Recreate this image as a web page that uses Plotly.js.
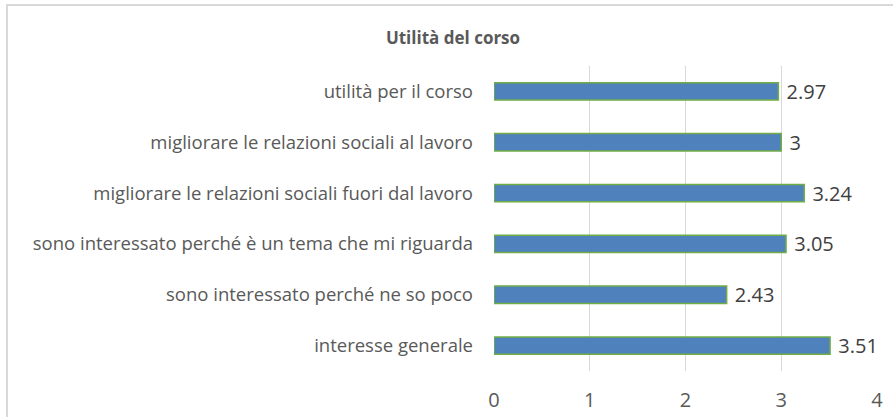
<!DOCTYPE html>
<html>
<head>
<meta charset="utf-8">
<script src="https://cdn.plot.ly/plotly-3.0.1.min.js"></script>
<style>
html,body{margin:0;padding:0;background:#fff;overflow:hidden;}
#chart{width:893px;height:417px;}
</style>
</head>
<body>
<div id="chart"></div>
<script>
// Categories from bottom to top
const categories = [
  "interesse generale",
  "sono interessato perché ne so poco",
  "sono interessato perché è un tema che mi riguarda",
  "migliorare le relazioni sociali fuori dal lavoro",
  "migliorare le relazioni sociali al lavoro",
  "utilità per il corso"
];
const values = [3.51, 2.43, 3.05, 3.24, 3, 2.97];
const valueLabels = ["3.51", "2.43", "3.05", "3.24", "3", "2.97"];
const xTicks = [0, 1, 2, 3, 4];
const chartTitle = "Utilità del corso";

const W = 893, H = 417;
const m = {l: 494, r: 16, t: 66, b: 46, pad: 0};
const pw = W - m.l - m.r, ph = H - m.t - m.b;
const px = v => (v - m.l) / pw;
const py = v => 1 - (v - m.t) / ph;

const font = "'Open Sans', sans-serif";

const trace = {
  type: "bar",
  orientation: "h",
  y: categories,
  x: values,
  text: valueLabels,
  texttemplate: " %{text}",
  textposition: "outside",
  constraintext: "none",
  cliponaxis: false,
  textfont: {family: font, size: 20, color: "#404040"},
  marker: {color: "#4F81BD", line: {color: "#70AD47", width: 1.5}},
  width: 0.34,
  hoverinfo: "none"
};

const layout = {
  width: W, height: H,
  margin: m,
  paper_bgcolor: "#ffffff",
  plot_bgcolor: "#ffffff",
  showlegend: false,
  title: {
    text: "<b>" + chartTitle + "</b>",
    font: {family: font, size: 17, color: "#595959"},
    x: 453 / W, xanchor: "center",
    y: 1 - 38 / H, yanchor: "middle"
  },
  xaxis: {
    range: [0, 4],
    tickvals: xTicks,
    ticktext: xTicks.map(String),
    showgrid: true,
    gridcolor: "#d9d9d9",
    gridwidth: 1,
    zeroline: false,
    showline: false,
    ticks: "",
    ticklabelstandoff: 15,
    tickfont: {family: font, size: 20, color: "#595959"},
    fixedrange: true
  },
  yaxis: {
    type: "category",
    categoryorder: "array",
    categoryarray: categories,
    showgrid: false,
    zeroline: false,
    showline: false,
    ticks: "",
    ticklabelstandoff: 20,
    tickfont: {family: font, size: 18.5, color: "#595959"},
    fixedrange: true
  },
  shapes: [{
    type: "rect", xref: "paper", yref: "paper",
    x0: px(7), x1: px(W + 60), y0: py(H + 60), y1: py(5),
    line: {color: "#d9d9d9", width: 2},
    fillcolor: "rgba(0,0,0,0)",
    layer: "below"
  }]
};

Plotly.newPlot("chart", [trace], layout, {staticPlot: true, displayModeBar: false});
</script>
</body>
</html>
